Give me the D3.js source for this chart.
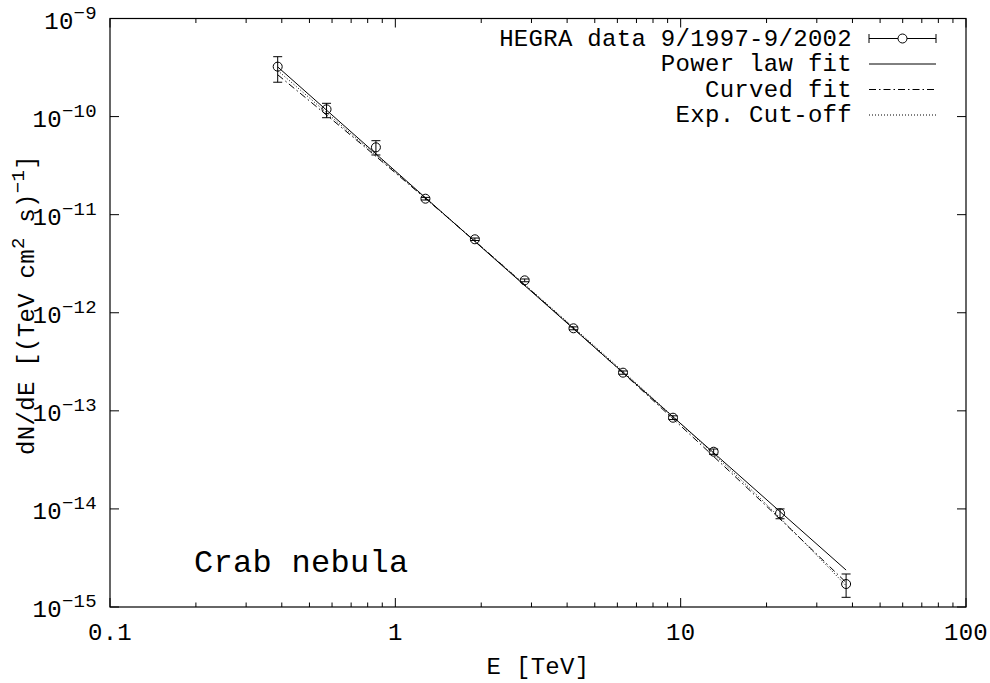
<!DOCTYPE html>
<html>
<head>
<meta charset="utf-8">
<script src="https://cdn.jsdelivr.net/npm/d3@7"></script>
<style>
  body { margin: 0; background: #fff; }
  text { font-family: "Liberation Mono", "DejaVu Sans Mono", monospace; fill: #000; }
</style>
</head>
<body>
<div id="myChart"></div>
<script>
// HEGRA Crab spectrum
var energy   = [0.387, 0.574, 0.855, 1.275, 1.90, 2.84, 4.21, 6.28, 9.40, 13.05, 22.3, 38.0];
var flux     = [3.23e-10, 1.186e-10, 4.86e-11, 1.455e-11, 5.61e-12, 2.14e-12, 6.94e-13, 2.45e-13, 8.51e-14, 3.83e-14, 9.02e-15, 1.715e-15];
var fluxLow  = [2.24e-10, 9.74e-11, 4.06e-11, 1.41e-11, 5.45e-12, 2.07e-12, 6.70e-13, 2.36e-13, 8.15e-14, 3.60e-14, 7.94e-15, 1.255e-15];
var fluxHigh = [4.08e-10, 1.366e-10, 5.68e-11, 1.50e-11, 5.78e-12, 2.21e-12, 7.18e-13, 2.55e-13, 8.90e-14, 4.08e-14, 1.00e-14, 2.17e-15];

// fit curves
var powerE  = [0.387, 38.0];
var powerF  = [3.21e-10, 2.38e-15];
var curvedE = [0.387, 0.6, 1, 2, 3, 5, 10, 20, 38];
var curvedF = [2.67e-10, 9.32e-11, 2.67e-11, 4.72e-12, 1.67e-12, 4.43e-13, 7.03e-14, 1.065e-14, 1.78e-15];
var cutE    = [0.387, 0.6, 1, 2, 3, 5, 10, 20, 38];
var cutF    = [2.95e-10, 9.81e-11, 2.72e-11, 4.73e-12, 1.687e-12, 4.55e-13, 7.40e-14, 1.108e-14, 1.65e-15];

var xTicks = [0.1, 1, 10, 100];
var xTickLabels = ["0.1", "1", "10", "100"];
var yExponents = [-9, -10, -11, -12, -13, -14, -15];
var legendLabels = ["HEGRA data 9/1997-9/2002", "Power law fit", "Curved fit", "Exp. Cut-off"];

var W = 990, H = 683;
var pLeft = 110, pRight = 966, pTop = 18.5, pBottom = 607;

var x = d3.scaleLog().domain([0.1, 100]).range([pLeft, pRight]);
var y = d3.scaleLog().domain([1e-15, 1e-9]).range([pBottom, pTop]);

var svg = d3.select("#myChart").append("svg")
  .attr("width", W).attr("height", H);

// frame
svg.append("rect")
  .attr("x", pLeft).attr("y", pTop)
  .attr("width", pRight - pLeft).attr("height", pBottom - pTop)
  .attr("fill", "none").attr("stroke", "#000").attr("stroke-width", 1.2);

// x ticks (major + minor) on bottom and top
var xMinor = [];
[0.1, 1, 10].forEach(function(d) {
  for (var k = 2; k <= 9; k++) xMinor.push(d * k);
});
var tickG = svg.append("g").attr("stroke", "#000").attr("stroke-width", 1);
xTicks.forEach(function(t) {
  tickG.append("line").attr("x1", x(t)).attr("x2", x(t)).attr("y1", pBottom).attr("y2", pBottom - 9);
  tickG.append("line").attr("x1", x(t)).attr("x2", x(t)).attr("y1", pTop).attr("y2", pTop + 9);
});
xMinor.forEach(function(t) {
  tickG.append("line").attr("x1", x(t)).attr("x2", x(t)).attr("y1", pBottom).attr("y2", pBottom - 4.5);
  tickG.append("line").attr("x1", x(t)).attr("x2", x(t)).attr("y1", pTop).attr("y2", pTop + 4.5);
});
yExponents.forEach(function(e) {
  var v = Math.pow(10, e);
  tickG.append("line").attr("x1", pLeft).attr("x2", pLeft + 9).attr("y1", y(v)).attr("y2", y(v));
  tickG.append("line").attr("x1", pRight).attr("x2", pRight - 9).attr("y1", y(v)).attr("y2", y(v));
});

// tick labels
svg.selectAll(".xlab")
  .data(xTicks)
  .enter()
  .append("text")
  .attr("class", "xlab")
  .attr("x", function(d) { return x(d); })
  .attr("y", 640)
  .attr("text-anchor", "middle")
  .style("font-size", "24px")
  .style("letter-spacing", "0.3px")
  .text(function(d, i) { return xTickLabels[i]; });

var ylab = svg.selectAll(".ylab")
  .data(yExponents)
  .enter()
  .append("text")
  .attr("class", "ylab")
  .attr("x", 97)
  .attr("y", function(d) { return y(Math.pow(10, d)) + 10; })
  .attr("text-anchor", "end")
  .style("font-size", "24px")
  .style("letter-spacing", "0.3px");
ylab.append("tspan").text("10");
ylab.append("tspan")
  .attr("dy", -10)
  .style("font-size", "19px")
  .text(function(d) { return "\u2212" + Math.abs(d); });

// axis titles
svg.append("text")
  .attr("x", (pLeft + pRight) / 2)
  .attr("y", 674)
  .attr("text-anchor", "middle")
  .style("font-size", "24px")
  .style("letter-spacing", "0.3px")
  .text("E [TeV]");

var yt = svg.append("text")
  .attr("transform", "translate(34,305) rotate(-90)")
  .attr("text-anchor", "middle")
  .style("font-size", "24px")
  .style("letter-spacing", "0.3px");
yt.append("tspan").text("dN/dE [(TeV cm");
yt.append("tspan").attr("dy", -10).style("font-size", "19px").text("2");
yt.append("tspan").attr("dy", 10).text(" s)");
yt.append("tspan").attr("dy", -10).style("font-size", "19px").text("\u22121");
yt.append("tspan").attr("dy", 10).text("]");

svg.append("text")
  .attr("x", 194)
  .attr("y", 572)
  .style("font-size", "32px")
  .style("letter-spacing", "0.3px")
  .text("Crab nebula");

// fit lines
var line = d3.line()
  .x(function(d) { return x(d[0]); })
  .y(function(d) { return y(d[1]); })
  .curve(d3.curveMonotoneX);

var plot = svg.append("g").attr("fill", "none").attr("stroke", "#000").attr("stroke-width", 1);
plot.append("path").attr("d", line(d3.zip(cutE, cutF))).attr("stroke-dasharray", "1,2");
plot.append("path").attr("d", line(d3.zip(curvedE, curvedF))).attr("stroke-dasharray", "7,3,1.5,3");
plot.append("path").attr("d", line(d3.zip(powerE, powerF)));

// data points with error bars
var pts = d3.range(energy.length).map(function(i) {
  return { e: energy[i], f: flux[i], lo: fluxLow[i], hi: fluxHigh[i] };
});
var pg = plot.selectAll(".pt").data(pts).enter().append("g").attr("class", "pt");
pg.append("line")
  .attr("x1", function(d) { return x(d.e); }).attr("x2", function(d) { return x(d.e); })
  .attr("y1", function(d) { return y(d.lo); }).attr("y2", function(d) { return y(d.hi); });
pg.append("line")
  .attr("x1", function(d) { return x(d.e) - 4.5; }).attr("x2", function(d) { return x(d.e) + 4.5; })
  .attr("y1", function(d) { return y(d.lo); }).attr("y2", function(d) { return y(d.lo); });
pg.append("line")
  .attr("x1", function(d) { return x(d.e) - 4.5; }).attr("x2", function(d) { return x(d.e) + 4.5; })
  .attr("y1", function(d) { return y(d.hi); }).attr("y2", function(d) { return y(d.hi); });
pg.append("circle")
  .attr("cx", function(d) { return x(d.e); })
  .attr("cy", function(d) { return y(d.f); })
  .attr("r", 4.5);

// legend
var legX = 852, legY = 45.5, legStep = 25.5, sx1 = 869, sx2 = 936;
var leg = svg.append("g");
leg.selectAll("text")
  .data(legendLabels)
  .enter()
  .append("text")
  .attr("x", legX)
  .attr("y", function(d, i) { return legY + i * legStep; })
  .attr("text-anchor", "end")
  .style("font-size", "24px")
  .style("letter-spacing", "0.3px")
  .text(function(d) { return d; });

var ly = function(i) { return legY + i * legStep - 7; };
var lg = leg.append("g").attr("stroke", "#000").attr("stroke-width", 1).attr("fill", "none");
lg.append("line").attr("x1", sx1).attr("x2", sx2).attr("y1", ly(0)).attr("y2", ly(0));
lg.append("line").attr("x1", sx1).attr("x2", sx1).attr("y1", ly(0) - 4.5).attr("y2", ly(0) + 4.5);
lg.append("line").attr("x1", sx2).attr("x2", sx2).attr("y1", ly(0) - 4.5).attr("y2", ly(0) + 4.5);
lg.append("circle").attr("cx", (sx1 + sx2) / 2).attr("cy", ly(0)).attr("r", 4.5).attr("fill", "#fff");
lg.append("line").attr("x1", sx1).attr("x2", sx2).attr("y1", ly(1)).attr("y2", ly(1));
lg.append("line").attr("x1", sx1).attr("x2", sx2).attr("y1", ly(2)).attr("y2", ly(2)).attr("stroke-dasharray", "7,3,1.5,3");
lg.append("line").attr("x1", sx1).attr("x2", sx2).attr("y1", ly(3)).attr("y2", ly(3)).attr("stroke-dasharray", "1,2");
</script>
</body>
</html>
